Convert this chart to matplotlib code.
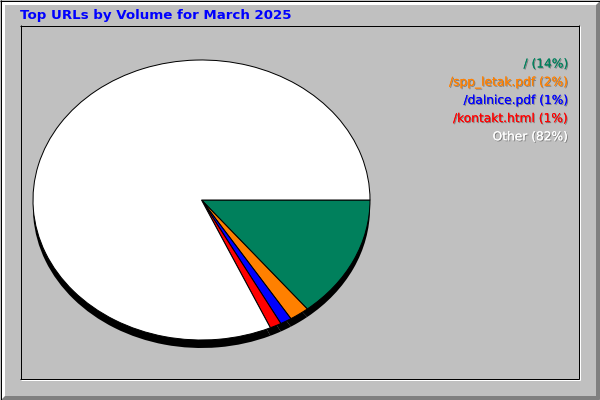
import matplotlib
matplotlib.use("Agg")
import matplotlib.pyplot as plt
import matplotlib.patheffects as pe

# Top URLs by volume (share of total, percent)
urls = ['/', '/spp_letak.pdf', '/dalnice.pdf', '/kontakt.html', 'Other']
shares = [14.2, 1.9, 1.1, 1.1, 81.7]
colors = ['#00805C', '#FF8000', '#0000FF', '#FF0000', '#FFFFFF']
title = 'Top URLs by Volume for March 2025'

W, H = 600, 400
grey, dkgrey = '#C0C0C0', '#808080'

fig = plt.figure(figsize=(W / 100, H / 100), dpi=100, facecolor=grey)

# background frame drawn in pixel coordinates
bg = fig.add_axes([0, 0, 1, 1])
bg.set_xlim(0, W)
bg.set_ylim(H, 0)
bg.axis('off')
lw = 0.72  # one pixel

def hline(y, x0, x1, c):
    bg.plot([x0, x1 + 1], [y + 0.5, y + 0.5], color=c, lw=lw, solid_capstyle='butt')

def vline(x, y0, y1, c):
    bg.plot([x + 0.5, x + 0.5], [y0, y1 + 1], color=c, lw=lw, solid_capstyle='butt')

# outer bevel
for i in range(1, 4):
    hline(i, 1, W - 2, 'white')
    vline(i, 1, H - 2, 'white')
for i in range(1, 5):
    hline(H - 1 - i, i, W - 2, dkgrey)
    vline(W - 1 - i, i, H - 2, dkgrey)
hline(0, 0, W - 1, 'black'); hline(H - 1, 0, W - 1, 'black')
vline(0, 0, H - 1, 'black'); vline(W - 1, 0, H - 1, 'black')

# inner sunken box
hline(379, 21, 579, 'white'); vline(579, 26, 379, 'white')
hline(25, 20, 578, 'black'); hline(378, 20, 578, 'black')
vline(20, 25, 378, 'black'); vline(578, 25, 378, 'black')

bg.text(20, 15.5, title, color='#0000FF', fontsize=9.6, fontweight='bold',
        ha='left', va='center', family='DejaVu Sans')

# pie: ellipse x 33..370, y 60..340, shadow 8px below
rx, ry, sh = 168.5, 140.0, 8.0
left, top = 33.0, 60.0
ax = fig.add_axes([left / W, (H - (top + 2 * ry + sh)) / H,
                   2 * rx / W, (2 * ry + sh) / H])
ax.pie(shares, colors=['black'] * len(shares), startangle=0, counterclock=False,
       center=(0, -sh / ry), wedgeprops=dict(linewidth=0))
ax.pie(shares, colors=colors, startangle=0, counterclock=False,
       wedgeprops=dict(edgecolor='black', linewidth=lw))
ax.set_aspect('auto')
ax.set_xlim(-1, 1)
ax.set_ylim(-1 - sh / ry, 1)
ax.axis('off')

# legend, right aligned with a small dark shadow
shadow = [pe.withSimplePatchShadow(offset=(0.72, -0.72), shadow_rgbFace='black', alpha=0.35),
          pe.Normal()]
for i, (u, s, c) in enumerate(zip(urls, shares, colors)):
    bg.text(568, 64 + i * 18.2, f'{u} ({s:.0f}%)', color=c, fontsize=8.8,
            ha='right', va='center', family='DejaVu Sans', path_effects=shadow)

fig.savefig('out.png', dpi=100, facecolor=grey)
